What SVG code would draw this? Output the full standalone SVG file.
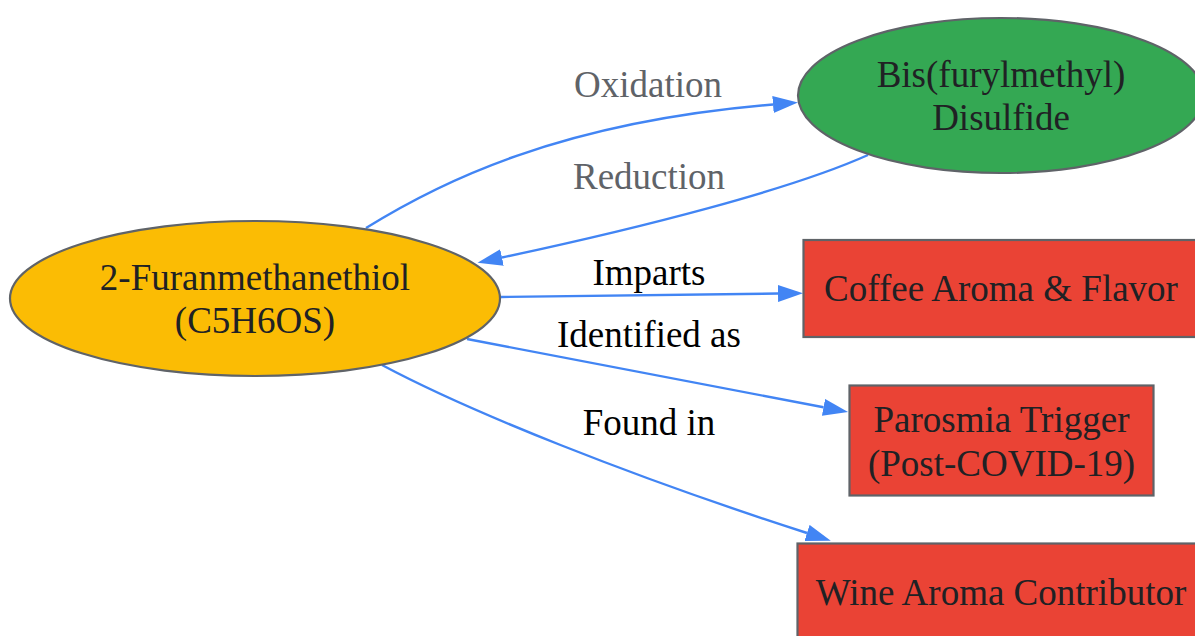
<svg xmlns="http://www.w3.org/2000/svg" width="1195" height="636" viewBox="0 0 1195 636">
<style>
  .node { stroke: #5f6368; stroke-width: 2.2; }
  .lbl { font-family: "Liberation Serif", "Times New Roman", serif; font-size: 37px; fill: #202124; text-anchor: middle; }
  .edge { fill: none; stroke: #4285f4; stroke-width: 2.4; marker-end: url(#arrow); }
  .elbl { font-family: "Liberation Serif", "Times New Roman", serif; font-size: 37px; text-anchor: middle; fill: #000000; }
  .elbl.grey { fill: #5f6368; }
</style>
<defs>
  <marker id="arrow" markerUnits="userSpaceOnUse" markerWidth="26" markerHeight="18" refX="0" refY="8.5" orient="auto">
    <path d="M0,0 L25,8.5 L0,17 Z" fill="#4285f4"/>
  </marker>
</defs>
<rect width="1195" height="636" fill="#ffffff"/>
<g id="connectors">
  <path class="edge" d="M366,228 C440,182 560,122 773,104.5"/>
  <path class="edge" d="M868,155 C790,190 640,228 502,257.5"/>
  <path class="edge" d="M501,297 L778,293.5"/>
  <path class="edge" d="M467,339 L823.5,407.3"/>
  <path class="edge" d="M382,365 C470,412 630,476 807,533"/>
  <text class="elbl grey" x="648" y="97">Oxidation</text>
  <text class="elbl grey" x="649" y="189">Reduction</text>
  <text class="elbl" x="649" y="285">Imparts</text>
  <text class="elbl" x="649" y="347">Identified as</text>
  <text class="elbl" x="649" y="435">Found in</text>
</g>
<g id="furanmethanethiol">
  <ellipse class="node" cx="255" cy="298.5" rx="245" ry="77.5" fill="#fbbc04"/>
  <text class="lbl" x="255" y="290">2-Furanmethanethiol</text>
  <text class="lbl" x="255" y="333">(C5H6OS)</text>
</g>
<g id="disulfide">
  <ellipse class="node" cx="1001" cy="95.5" rx="203" ry="77.5" fill="#34a853"/>
  <text class="lbl" x="1001" y="87">Bis(furylmethyl)</text>
  <text class="lbl" x="1001" y="130">Disulfide</text>
</g>
<g id="coffee">
  <rect class="node" x="803.5" y="240" width="396" height="97" fill="#ea4335"/>
  <text class="lbl" x="1001" y="301">Coffee Aroma &amp; Flavor</text>
</g>
<g id="parosmia">
  <rect class="node" x="849.5" y="385.5" width="304" height="110" fill="#ea4335"/>
  <text class="lbl" x="1001.5" y="432">Parosmia Trigger</text>
  <text class="lbl" x="1001.5" y="476">(Post-COVID-19)</text>
</g>
<g id="wine">
  <rect class="node" x="797.5" y="543.5" width="408" height="97" fill="#ea4335"/>
  <text class="lbl" x="1001" y="605">Wine Aroma Contributor</text>
</g>
</svg>
